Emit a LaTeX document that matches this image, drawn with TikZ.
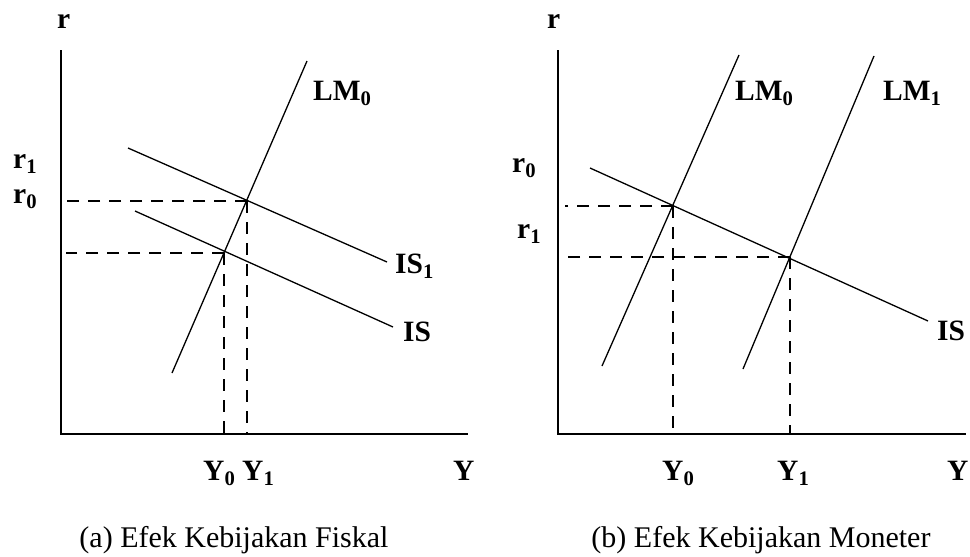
\documentclass[tikz,border=0pt]{standalone}
\usepackage{fontspec}
\setmainfont{Liberation Serif}
\begin{document}
\begin{tikzpicture}[x=1pt,y=-1pt,
  axis/.style={line width=2pt},
  curve/.style={line width=1.3pt},
  guide/.style={line width=2.8pt,dash pattern=on 12pt off 9pt},
  lbl/.style={font=\fontsize{29.5}{33}\selectfont\bfseries,inner sep=0pt,anchor=base west},
  captext/.style={font=\fontsize{30}{34}\selectfont,inner sep=0pt,anchor=base}]
\useasboundingbox (0,0) rectangle (970,557);
% ---------- left panel ----------
\coordinate (aO) at (61,434);
\coordinate (aT) at (61,50);
\coordinate (aR) at (468,434);
\draw[axis] (aT) -- (aO) -- (aR);
\coordinate (aLMt) at (307,61);
\coordinate (aLMb) at (172,373);
\coordinate (aIS1a) at (128,148);
\coordinate (aIS1b) at (387,262);
\coordinate (aISa) at (135,211);
\coordinate (aISb) at (393,327);
\draw[curve] (aLMt) -- (aLMb);
\draw[curve] (aIS1a) -- (aIS1b);
\draw[curve] (aISa) -- (aISb);
\coordinate (aE1) at (247,201);
\coordinate (aE0) at (224,253);
\coordinate (aH1) at (66,201);
\coordinate (aH0) at (66,253);
\coordinate (aV1) at (247,433);
\coordinate (aV0) at (224,433);
\draw[guide] (aE1) -- (aH1);
\draw[guide] (aE1) -- (aV1);
\draw[guide] (aE0) -- (aH0);
\draw[guide] (aE0) -- (aV0);
\node[lbl] (ar) at (57,28) {r};
\node[lbl] (ar1) at (13,168) {r\textsubscript{1}};
\node[lbl] (ar0) at (13,203) {r\textsubscript{0}};
\node[lbl] (aLM) at (313,100) {LM\textsubscript{0}};
\node[lbl] (aIS1) at (395,273) {IS\textsubscript{1}};
\node[lbl] (aIS) at (403,341) {IS};
\node[lbl] (aY0) at (203,480) {Y\textsubscript{0}};
\node[lbl] (aY1) at (242,480) {Y\textsubscript{1}};
\node[lbl] (aY) at (453,480) {Y};
\node[captext] (acap) at (234,547) {(a) Efek Kebijakan Fiskal};
% ---------- right panel ----------
\coordinate (bO) at (558,434);
\coordinate (bT) at (558,50);
\coordinate (bR) at (966,434);
\draw[axis] (bT) -- (bO) -- (bR);
\coordinate (bLM0t) at (739,55);
\coordinate (bLM0b) at (602,366);
\coordinate (bLM1t) at (874,56);
\coordinate (bLM1b) at (743,369);
\coordinate (bISa) at (590,168);
\coordinate (bISb) at (928,321);
\draw[curve] (bLM0t) -- (bLM0b);
\draw[curve] (bLM1t) -- (bLM1b);
\draw[curve] (bISa) -- (bISb);
\coordinate (bE0) at (673,206);
\coordinate (bE1) at (790,257);
\coordinate (bH0) at (565,206);
\coordinate (bH1) at (565,257);
\coordinate (bV0) at (673,433);
\coordinate (bV1) at (790,435);
\draw[guide] (bE0) -- (bH0);
\draw[guide] (bE0) -- (bV0);
\draw[guide] (bE1) -- (bH1);
\draw[guide] (bE1) -- (bV1);
\node[lbl] (br) at (547,28) {r};
\node[lbl] (br0) at (512,172) {r\textsubscript{0}};
\node[lbl] (br1) at (517,238) {r\textsubscript{1}};
\node[lbl] (bLM0) at (735,100) {LM\textsubscript{0}};
\node[lbl] (bLM1) at (883,100) {LM\textsubscript{1}};
\node[lbl] (bIS) at (937,340) {IS};
\node[lbl] (bY0) at (662,480) {Y\textsubscript{0}};
\node[lbl] (bY1) at (777,480) {Y\textsubscript{1}};
\node[lbl] (bY) at (947,480) {Y};
\node[captext] (bcap) at (761,547) {(b) Efek Kebijakan Moneter};
\end{tikzpicture}
\end{document}
